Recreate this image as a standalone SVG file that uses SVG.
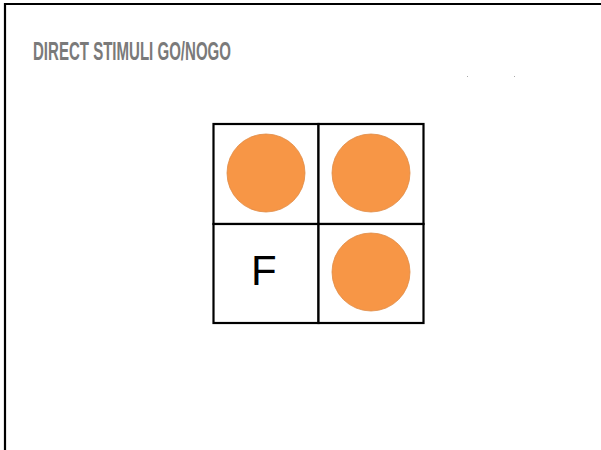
<svg xmlns="http://www.w3.org/2000/svg" width="601" height="450" viewBox="0 0 601 450">
<style>
.cell{fill:#ffffff;stroke:#000000;stroke-width:2.2}
.dot{fill:#f79646;stroke:#e08a44;stroke-width:0.8}
.title{font-family:"Liberation Sans",Arial,sans-serif;font-weight:bold;font-size:25px;fill:#7a7a7a}
.letter{font-family:"Liberation Sans",Arial,sans-serif;font-size:42px;fill:#000000}
</style>
<rect x="0" y="0" width="601" height="450" fill="#ffffff"/>
<path d="M5 450 V4 H601" fill="none" stroke="#000000" stroke-width="2.2"/>
<text class="title" x="33" y="60" textLength="198" lengthAdjust="spacingAndGlyphs">DIRECT STIMULI GO/NOGO</text>
<rect x="467" y="76" width="1" height="1" fill="#aaaaaa"/>
<rect x="514" y="76" width="1" height="1" fill="#aaaaaa"/>
<g id="cell-top-left"><rect class="cell" x="213.5" y="124" width="105" height="100"/><circle class="dot" cx="266" cy="173" r="39"/></g>
<g id="cell-top-right"><rect class="cell" x="318.5" y="124" width="105" height="100"/><circle class="dot" cx="371" cy="173" r="39"/></g>
<g id="cell-bottom-left"><rect class="cell" x="213.5" y="224" width="105" height="99"/><text class="letter" x="251" y="285">F</text></g>
<g id="cell-bottom-right"><rect class="cell" x="318.5" y="224" width="105" height="99"/><circle class="dot" cx="371" cy="272" r="39"/></g>
<g id="connectors"></g>
</svg>
